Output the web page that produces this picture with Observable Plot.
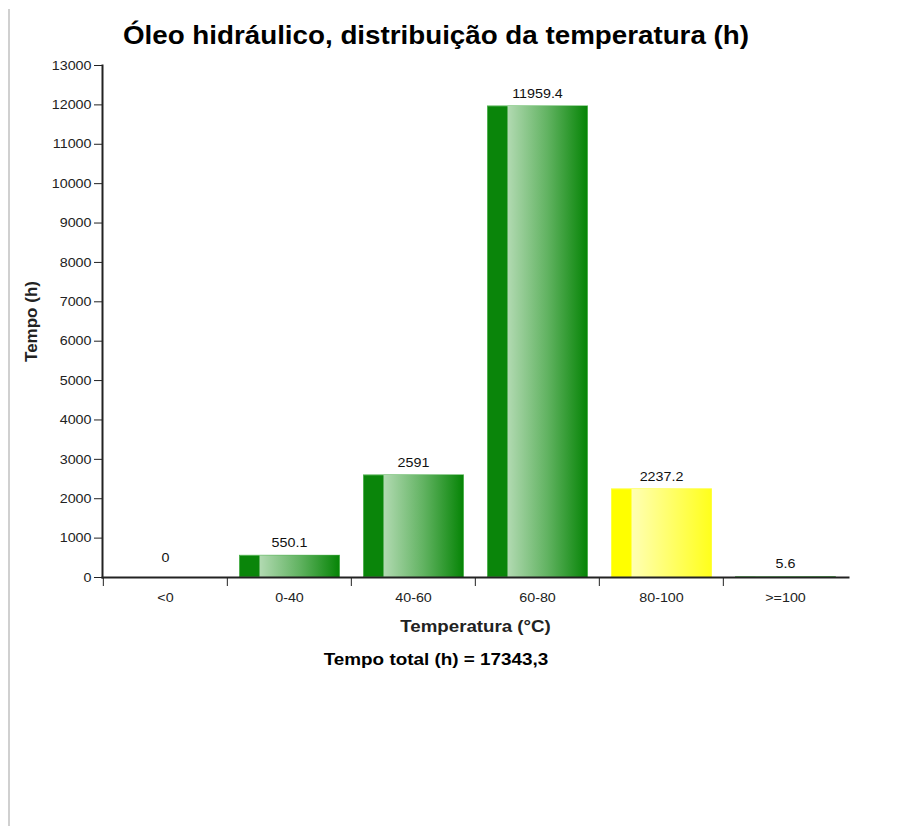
<!DOCTYPE html>
<html>
<head>
<meta charset="utf-8">
<script src="https://cdn.jsdelivr.net/npm/d3@7"></script>
<script src="https://cdn.jsdelivr.net/npm/@observablehq/plot@0.6"></script>
<style>
  html, body { margin: 0; padding: 0; background: #fff; }
  body { width: 909px; height: 826px; position: relative; overflow: hidden; font-family: "Liberation Sans", Arial, sans-serif; color: #000; }
  #border { position: absolute; left: 8px; top: 9px; height: 817px; border-left: 2px solid #d0d0d0; z-index: 5; }
  #title { position: absolute; left: 0; top: 22px; width: 872px; text-align: center; font-weight: bold; font-size: 25px; line-height: 26px; transform: scaleX(1.11); }
  #chart { position: absolute; left: 0; top: 55px; }
  #caption { position: absolute; left: 0; top: 651px; width: 872px; text-align: center; font-weight: bold; font-size: 17px; line-height: 18px; transform: scaleX(1.11); }
  #chart svg g[aria-label="y-axis label"] text,
  #chart svg g[aria-label="x-axis label"] text { font-weight: bold; font-size: 17px; }
</style>
</head>
<body>
<div id="border"></div>
<div id="title"></div>
<div id="chart"></div>
<div id="caption"></div>
<script>
// ---- data ----
const titleText = "Óleo hidráulico, distribuição da temperatura (h)";
const categories = ["<0", "0-40", "40-60", "60-80", "80-100", ">=100"];
const values = [0, 550.1, 2591, 11959.4, 2237.2, 5.6];
const valueLabels = ["0", "550.1", "2591", "11959.4", "2237.2", "5.6"];
const yTicks = [0, 1000, 2000, 3000, 4000, 5000, 6000, 7000, 8000, 9000, 10000, 11000, 12000, 13000];
const warnCategories = ["80-100"];
const xLabel = "Temperatura (°C)";
const yLabel = "Tempo (h)";
const captionText = "Tempo total (h) = 17343,3";

// ---- build ----
const data = categories.map((c, i) => ({cat: c, value: values[i], label: valueLabels[i]}));
const isWarn = d => warnCategories.includes(d.cat);
const greenData = data.filter(d => !isWarn(d));
const warnData = data.filter(isWarn);

const W = 909, H = 590, mL = 102, mR = 61, mT = 10, mB = 68;
const step = (W - mL - mR) / categories.length;
const SX = 1.1; // horizontal text stretch of the original rendering

document.getElementById("title").textContent = titleText;
document.getElementById("caption").textContent = captionText;

const chart = Plot.plot({
  width: W,
  height: H,
  marginLeft: mL,
  marginRight: mR,
  marginTop: mT,
  marginBottom: mB,
  style: {fontFamily: '"Liberation Sans", Arial, sans-serif', fontSize: "13px", color: "#222", background: "transparent"},
  x: {type: "band", domain: categories, padding: 0},
  y: {domain: [0, 13000]},
  marks: [
    // solid base bars (dark strip)
    Plot.barY(greenData, {x: "cat", y: "value", insetLeft: 12.5, insetRight: 11.5, fill: "#0a850a", stroke: "#4fb04f", strokeWidth: 1}),
    Plot.barY(warnData, {x: "cat", y: "value", insetLeft: 12.5, insetRight: 11.5, fill: "#ffff00", stroke: "#ffff40", strokeWidth: 1}),
    // gradient overlays
    Plot.barY(greenData, {x: "cat", y: "value", insetLeft: 32.5, insetRight: 12, fill: "url(#gradGreen)"}),
    Plot.barY(warnData, {x: "cat", y: "value", insetLeft: 32.5, insetRight: 12, fill: "url(#gradYellow)"}),
    // value labels
    Plot.text(data.filter(d => d.value !== 0), {x: "cat", y: "value", text: "label", dy: -13, fill: "#111", fontSize: 13}),
    Plot.text(data.filter(d => d.value === 0), {x: "cat", y: "value", text: "label", dy: -20, fill: "#111", fontSize: 13}),
    // axes
    Plot.axisY({ticks: yTicks, tickSize: 8, tickPadding: 3, tickFormat: d => String(d), label: yLabel, labelAnchor: "center", labelOffset: 78, labelArrow: "none", fontSize: 13}),
    Plot.axisX({tickSize: 9, tickFormat: () => "", label: null, dx: -step / 2}),
    Plot.axisX({tickSize: 0, tickPadding: 15, label: xLabel, labelAnchor: "center", labelOffset: 54, fontSize: 13}),
    Plot.frame({anchor: "left", stroke: "#222", strokeWidth: 2}),
    Plot.frame({anchor: "bottom", stroke: "#222", strokeWidth: 2})
  ]
});

const defs = d3.select(chart).insert("defs", ":first-child");
const g1 = defs.append("linearGradient").attr("id", "gradGreen").attr("x1", "0").attr("x2", "1").attr("y1", "0").attr("y2", "0");
g1.append("stop").attr("offset", "0%").attr("stop-color", "#b2dab2");
g1.append("stop").attr("offset", "50%").attr("stop-color", "#62b362");
g1.append("stop").attr("offset", "100%").attr("stop-color", "#078507");
const g2 = defs.append("linearGradient").attr("id", "gradYellow").attr("x1", "0").attr("x2", "1").attr("y1", "0").attr("y2", "0");
g2.append("stop").attr("offset", "0%").attr("stop-color", "#ffffb4");
g2.append("stop").attr("offset", "100%").attr("stop-color", "#ffff1c");

document.getElementById("chart").appendChild(chart);

// stretch horizontal texts to match the original's wider glyphs
chart.querySelectorAll("text").forEach(t => {
  if (t.closest('g[aria-label="y-axis label"]')) return;
  const len = t.getComputedTextLength();
  if (len > 0) {
    t.setAttribute("textLength", (len * SX).toFixed(2));
    t.setAttribute("lengthAdjust", "spacingAndGlyphs");
  }
});
</script>
</body>
</html>
